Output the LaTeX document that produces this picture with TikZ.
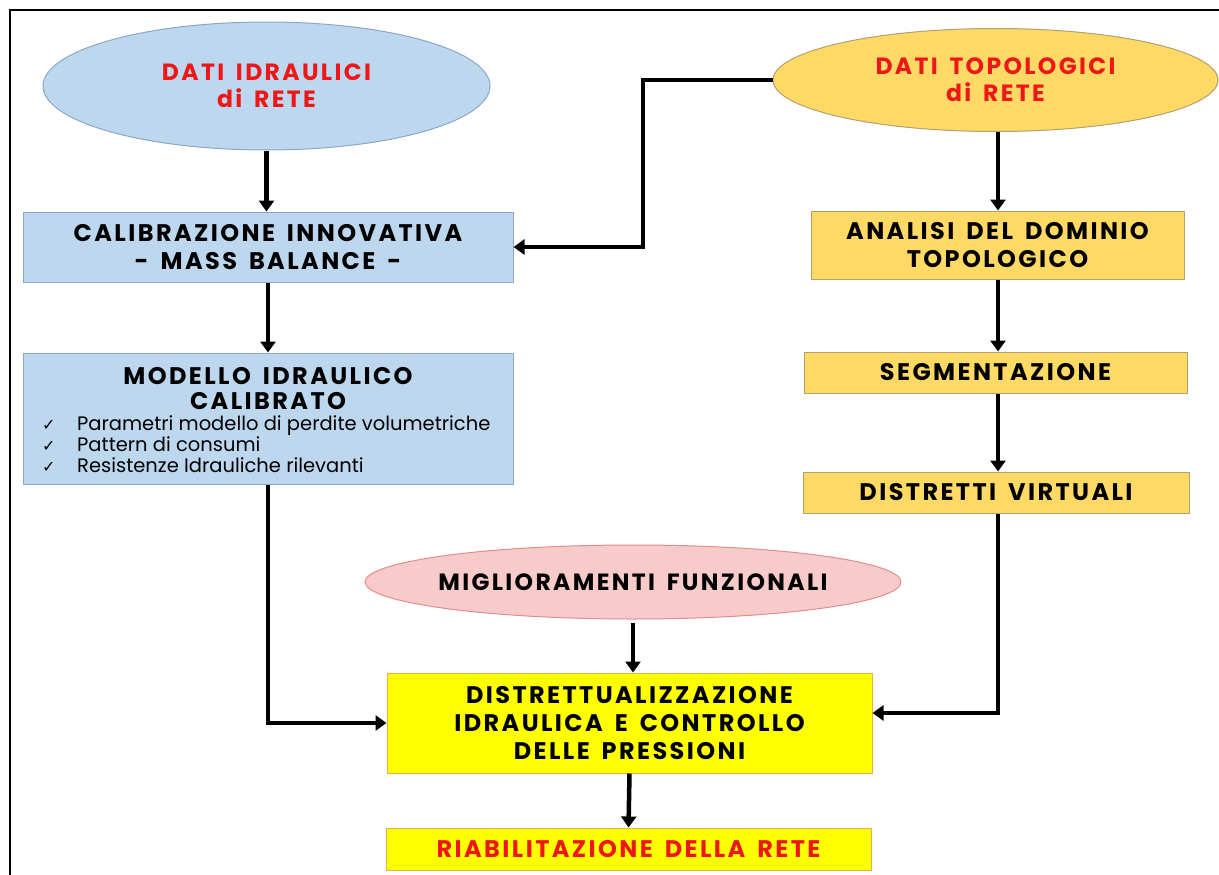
\documentclass[tikz,border=0pt]{standalone}
\usepackage{fontspec}
\setmainfont{Poppins}
\newfontfamily\headfont[LetterSpace=10,WordSpace=1.6]{Poppins}
\newfontfamily\symfont{DejaVu Sans}
\usetikzlibrary{arrows.meta,shapes.geometric}
\definecolor{blueF}{RGB}{189,215,238}
\definecolor{blueD}{RGB}{140,166,200}
\definecolor{goldF}{RGB}{255,217,102}
\definecolor{goldD}{RGB}{178,160,112}
\definecolor{pinkF}{RGB}{248,203,203}
\definecolor{pinkD}{RGB}{228,140,140}
\definecolor{yelF}{RGB}{255,255,0}
\definecolor{yelD}{RGB}{240,170,80}
\definecolor{titleRed}{RGB}{238,22,22}
\tikzset{
  ell/.style={ellipse, inner ysep=0pt, inner xsep=-160pt, line width=1pt, align=center,
    font=\headfont\bfseries\fontsize{23.5}{27}\selectfont},
  box/.style={rectangle, inner sep=0pt, line width=1pt, align=center,
    font=\headfont\bfseries\fontsize{24}{28}\selectfont},
  bluebox/.style={box, fill=blueF, draw=blueD},
  goldbox/.style={box, fill=goldF, draw=goldD},
  yelbox/.style={box, fill=yelF, draw=yelD},
  bodytext/.style={inner sep=0pt, anchor=base west, font=\fontsize{19.5}{21}\selectfont},
  tick/.style={inner sep=0pt, anchor=base west, font=\symfont\fontsize{16}{18}\selectfont},
  arr/.style={line width=4.5pt, -{Triangle[width=15pt,length=11pt]}},
}
\begin{document}
\begin{tikzpicture}[x=1pt,y=-1pt]
\useasboundingbox (0,0) rectangle (1219,875);
\draw[line width=2pt] (10,875) -- (10,10) -- (1219,10);

% ellipses
\node[ell, fill=blueF, draw=blueD, minimum width=447, minimum height=128, text=titleRed] (hyd) at (266.5,86) {DATI IDRAULICI\\di RETE};
\node[ell, fill=goldF, draw=goldD, minimum width=445, minimum height=103, text=titleRed] (topo) at (995.5,80) {DATI TOPOLOGICI\\di RETE};
\node[ell, fill=pinkF, draw=pinkD, minimum width=536, minimum height=74] (mig) at (633,582) {MIGLIORAMENTI FUNZIONALI};

% left column
\node[bluebox, minimum width=490, minimum height=70] (cal) at (268,247) {CALIBRAZIONE INNOVATIVA\\- MASS BALANCE -};
\node[bluebox, minimum width=490, minimum height=131] (mod) at (268,418.5) {};
\node[box, anchor=base] (modt1) at (268,384) {MODELLO IDRAULICO};
\node[box, anchor=base] (modt2) at (268,409) {CALIBRATO};
\node[tick] (c1) at (42,430) {✓};
\node[tick] (c2) at (42,451) {✓};
\node[tick] (c3) at (42,472) {✓};
\node[bodytext] (b1) at (77,430) {Parametri modello di perdite volumetriche};
\node[bodytext] (b2) at (77,451) {Pattern di consumi};
\node[bodytext] (b3) at (77,472) {Resistenze Idrauliche rilevanti};

% right column
\node[goldbox, minimum width=373, minimum height=68] (ana) at (997.5,245) {ANALISI DEL DOMINIO\\TOPOLOGICO};
\node[goldbox, minimum width=383, minimum height=41] (seg) at (995.5,372.5) {SEGMENTAZIONE};
\node[goldbox, minimum width=386, minimum height=41] (dv) at (996,492.5) {DISTRETTI VIRTUALI};

% bottom
\node[yelbox, minimum width=485, minimum height=100] (dist) at (629.5,723) {DISTRETTUALIZZAZIONE\\IDRAULICA E CONTROLLO\\DELLE PRESSIONI};
\node[yelbox, minimum width=485, minimum height=42, text=titleRed] (riab) at (628.5,849) {RIABILITAZIONE DELLA RETE};

% connectors
\coordinate (k1) at (643,80);
\coordinate (k2) at (998,713);
\draw[arr] (hyd.south) -- (hyd.south |- cal.north);
\draw[arr] (topo.west) -- (k1) |- (cal.east);
\draw[arr] (cal.south) -- (mod.north);
\draw[arr] (mod.south) |- (dist.west);
\draw[arr] (topo.south -| k2) -- (k2 |- ana.north);
\draw[arr] (ana.south -| k2) -- (k2 |- seg.north);
\draw[arr] (seg.south -| k2) -- (k2 |- dv.north);
\draw[arr] (dv.south -| k2) -- (k2) -- (k2 -| dist.east);
\draw[arr] ([yshift=-3pt]mig.south) -- (mig.south |- dist.north);
\draw[arr] (dist.south) -- (riab.north);
\end{tikzpicture}
\end{document}
